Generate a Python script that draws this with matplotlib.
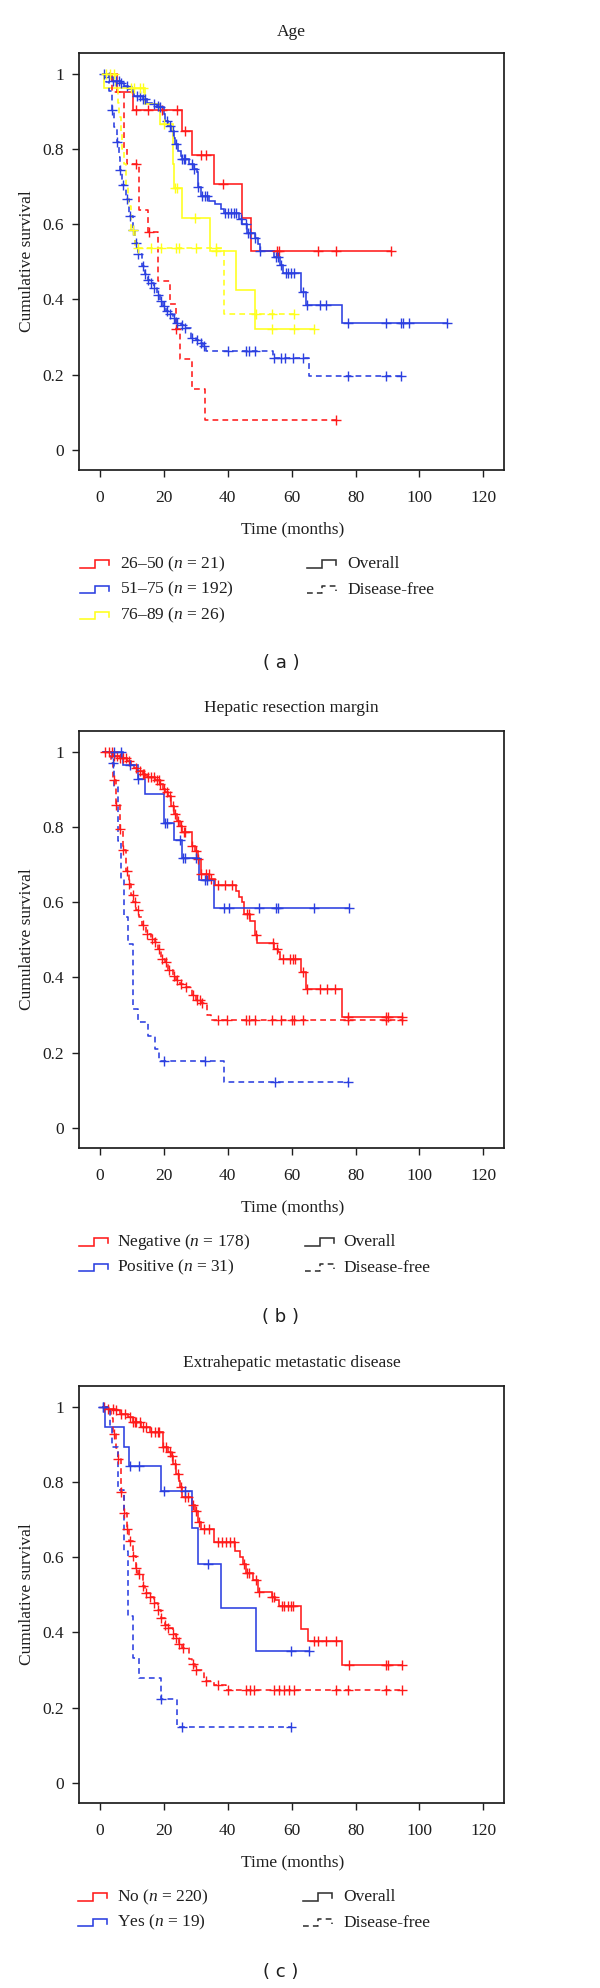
import numpy as np
import matplotlib
matplotlib.use('Agg')
import matplotlib.pyplot as plt

plt.rcParams['font.family'] = ['Liberation Serif', 'DejaVu Serif']
plt.rcParams['mathtext.fontset'] = 'custom'
plt.rcParams['mathtext.rm'] = 'Liberation Serif'
plt.rcParams['mathtext.it'] = 'Liberation Serif:italic'

# ---------------- data: panel (a) Age ----------------
a_red_os_t = [5.3, 10.2, 25.8, 28.7, 35.6, 44.4, 47.4]
a_red_os_s = [0.952, 0.905, 0.848, 0.785, 0.706, 0.618, 0.53]
a_red_os_c = [11.1, 15.1, 19.5, 24.0, 26.7, 31.6, 33.3, 38.5, 55.4, 55.9, 68.1, 74.0, 91.0]

a_red_dfs_t = [3.6, 7.4, 8.4, 12.2, 15.1, 18.0, 21.8, 23.7, 24.9, 28.7, 32.9]
a_red_dfs_s = [0.952, 0.804, 0.76, 0.638, 0.58, 0.45, 0.387, 0.32, 0.242, 0.162, 0.08]
a_red_dfs_c = [11.1, 15.4, 23.8, 73.9]

a_blue_os_t = [2.7, 3.6, 6.7, 7.6, 8.9, 10.2, 10.7, 13.3, 14.7, 16.4, 17.8, 18.7, 20.0, 20.4,
               21.3, 22.2, 23.1, 23.6, 24.4, 25.3, 25.8, 28.0, 29.3, 30.2, 30.7, 31.6, 34.2, 36.0,
               37.8, 38.7, 43.6, 44.4, 46.1, 48.6, 49.4, 50.0, 54.5, 56.3, 57.2, 62.9, 64.4, 75.8]
a_blue_os_s = [0.991, 0.982, 0.975, 0.969, 0.96, 0.951, 0.942, 0.933, 0.924, 0.92, 0.916, 0.911,
               0.893, 0.874, 0.862, 0.849, 0.831, 0.813, 0.796, 0.782, 0.773, 0.76, 0.747, 0.738,
               0.698, 0.676, 0.662, 0.653, 0.64, 0.631, 0.613, 0.60, 0.578, 0.564, 0.547, 0.529,
               0.513, 0.493, 0.471, 0.42, 0.385, 0.338]
a_blue_os_c = [1.3, 2.7, 4.0, 4.9, 5.8, 6.7, 8.4, 11.6, 12.4, 13.3, 14.2, 16.9, 18.0, 18.7, 20.9,
               21.8, 22.7, 23.7, 25.8, 26.2, 26.7, 28.7, 29.3, 30.8, 32.0, 32.9, 33.5, 39.1, 40.0,
               40.9, 41.8, 42.7, 44.0, 45.7, 46.3, 47.0, 48.6, 50.0, 55.1, 55.7, 56.7, 58.1, 59.0,
               59.9, 60.8, 63.5, 64.9, 69.0, 70.8, 77.7, 89.7, 94.2, 95.0, 96.6, 108.5]

a_blue_dfs_t = [2.0, 2.8, 3.6, 4.5, 5.2, 5.8, 6.2, 7.0, 8.2, 9.2, 10.3, 10.9, 11.8, 13.0, 14.0,
                15.0, 15.8, 16.8, 17.8, 18.9, 19.8, 20.7, 21.6, 22.8, 23.8, 25.5, 26.5, 28.6, 30.0,
                31.4, 32.2, 33.3, 54.3, 65.5]
a_blue_dfs_s = [0.98, 0.955, 0.905, 0.86, 0.82, 0.78, 0.744, 0.705, 0.667, 0.622, 0.585, 0.55,
                0.52, 0.489, 0.467, 0.453, 0.444, 0.431, 0.413, 0.396, 0.382, 0.369, 0.36, 0.351,
                0.338, 0.333, 0.324, 0.298, 0.291, 0.284, 0.276, 0.262, 0.244, 0.196]
a_blue_dfs_c = [3.7, 5.3, 6.2, 7.1, 8.4, 9.3, 10.4, 11.1, 12.0, 13.3, 14.2, 15.1, 16.0, 16.9, 18.0,
                19.1, 20.0, 20.9, 21.8, 23.1, 24.0, 25.8, 26.7, 28.9, 30.2, 31.6, 32.4, 40.0, 45.7,
                46.6, 48.6, 54.6, 56.7, 58.0, 60.3, 63.7, 77.7, 89.7, 94.2]

a_yel_os_t = [1.3, 14.2, 18.7, 22.7, 23.3, 25.8, 34.5, 42.7, 48.5]
a_yel_os_s = [0.962, 0.92, 0.867, 0.76, 0.696, 0.618, 0.53, 0.424, 0.32]
a_yel_os_c = [9.8, 10.7, 12.4, 13.3, 20.0, 23.4, 24.2, 29.6, 36.4, 53.9, 60.8, 67.1]

a_yel_dfs_t = [5.0, 5.6, 6.0, 6.5, 7.0, 7.6, 8.2, 8.9, 9.6, 11.0, 38.8]
a_yel_dfs_s = [0.962, 0.923, 0.885, 0.846, 0.80, 0.76, 0.70, 0.65, 0.585, 0.538, 0.36]
a_yel_dfs_c = [1.8, 3.0, 4.4, 10.4, 11.9, 16.0, 19.0, 23.9, 24.6, 30.1, 36.4, 48.9, 53.9, 60.8]

# ---------------- data: panel (b) Hepatic resection margin ----------------
b_red_os_t = [4.0, 6.2, 8.4, 9.8, 10.7, 11.6, 13.3, 14.2, 15.1, 17.3, 18.7, 19.6, 20.4, 21.3,
              22.2, 23.1, 24.0, 24.9, 25.8, 28.9, 29.8, 30.7, 31.6, 34.2, 36.0, 42.5, 43.5, 44.5,
              45.0, 47.0, 48.5, 49.3, 54.5, 55.7, 56.5, 62.9, 64.6, 75.7]
b_red_os_s = [0.99, 0.983, 0.977, 0.965, 0.957, 0.95, 0.941, 0.937, 0.933, 0.926, 0.915, 0.902,
              0.893, 0.884, 0.857, 0.835, 0.817, 0.804, 0.786, 0.751, 0.737, 0.715, 0.675, 0.662,
              0.646, 0.631, 0.615, 0.60, 0.57, 0.55, 0.512, 0.493, 0.476, 0.467, 0.45, 0.414,
              0.37, 0.295]
b_red_os_c = [2.7, 3.6, 4.4, 5.3, 6.2, 7.1, 8.0, 9.2, 11.1, 12.4, 13.3, 13.8, 15.1, 16.0, 16.9,
              17.8, 18.4, 18.9, 20.0, 21.1, 21.8, 22.8, 23.6, 24.3, 25.3, 26.2, 26.7, 28.9, 29.9,
              30.7, 31.7, 33.2, 34.0, 34.8, 36.9, 39.1, 41.3, 46.1, 46.6, 48.7, 54.0, 55.4, 57.2,
              59.4, 60.4, 61.0, 63.6, 64.8, 69.0, 71.0, 73.6, 77.7, 89.7, 90.3, 94.5]

b_red_dfs_t = [2.5, 3.5, 4.2, 5.0, 6.1, 7.2, 8.2, 9.0, 9.6, 10.4, 11.2, 12.2, 13.2, 14.5, 16.0,
               17.1, 18.1, 19.2, 20.2, 21.3, 22.8, 23.9, 24.9, 26.5, 28.9, 30.1, 31.7, 33.5, 34.6]
b_red_dfs_s = [0.99, 0.97, 0.926, 0.858, 0.796, 0.74, 0.684, 0.649, 0.62, 0.60, 0.58, 0.561,
               0.539, 0.516, 0.503, 0.494, 0.476, 0.45, 0.441, 0.419, 0.405, 0.392, 0.383, 0.374,
               0.352, 0.339, 0.332, 0.30, 0.287]
b_red_dfs_c = [1.5, 4.3, 5.1, 6.2, 7.3, 8.3, 9.2, 10.2, 11.0, 12.0, 13.3, 14.6, 16.2, 17.2, 18.6,
               19.4, 20.5, 21.5, 23.0, 24.2, 25.2, 26.8, 29.0, 30.2, 31.4, 32.0, 37.0, 39.8, 45.7,
               46.6, 48.6, 53.9, 56.7, 60.1, 60.8, 63.6, 77.7, 89.7, 94.5]

b_blue_os_t = [7.2, 11.9, 14.2, 19.9, 23.1, 25.7, 30.9, 35.8]
b_blue_os_s = [0.965, 0.928, 0.888, 0.81, 0.766, 0.718, 0.66, 0.585]
b_blue_os_c = [4.4, 6.5, 9.3, 12.0, 20.2, 21.0, 25.0, 26.0, 26.6, 30.0, 32.9, 33.5, 38.9, 40.4,
               49.8, 55.1, 55.8, 67.0, 78.0]

b_blue_dfs_t = [3.7, 4.3, 5.6, 6.5, 7.6, 8.6, 10.2, 12.0, 15.1, 17.2, 18.4, 38.8]
b_blue_dfs_s = [0.97, 0.906, 0.764, 0.662, 0.56, 0.489, 0.316, 0.282, 0.245, 0.209, 0.178, 0.121]
b_blue_dfs_c = [4.2, 20.0, 33.0, 54.9, 77.8]

# ---------------- data: panel (c) Extrahepatic metastatic disease ----------------
c_red_os_t = [2.0, 4.6, 6.1, 8.7, 10.3, 12.9, 15.5, 19.7, 21.2, 22.3, 22.8, 23.9, 24.6, 24.9,
              25.7, 28.9, 29.6, 30.8, 31.7, 35.8, 42.3, 43.8, 44.8, 45.6, 47.8, 49.6, 53.8, 54.9,
              56.0, 62.9, 65.0, 75.7]
c_red_os_s = [0.996, 0.991, 0.982, 0.973, 0.96, 0.947, 0.933, 0.893, 0.88, 0.871, 0.849, 0.822,
              0.804, 0.787, 0.76, 0.738, 0.724, 0.693, 0.676, 0.64, 0.618, 0.60, 0.582, 0.557,
              0.54, 0.508, 0.495, 0.486, 0.471, 0.409, 0.378, 0.314]
c_red_os_c = [1.2, 2.5, 4.1, 5.1, 6.7, 7.7, 9.3, 10.3, 10.8, 11.4, 12.4, 13.4, 14.5, 16.0, 17.1,
              18.1, 18.6, 19.8, 20.7, 21.8, 22.4, 23.5, 24.4, 25.4, 26.5, 27.5, 29.0, 30.1, 31.1,
              32.7, 34.1, 36.9, 38.2, 39.5, 40.7, 41.9, 45.0, 45.9, 46.7, 48.9, 49.9, 53.8, 54.6,
              56.9, 57.7, 59.0, 59.8, 60.5, 67.1, 68.4, 70.7, 73.9, 78.0, 89.7, 90.3, 94.5]

c_red_dfs_t = [2.5, 3.5, 4.2, 5.0, 5.6, 6.5, 7.4, 8.4, 9.2, 10.2, 11.1, 12.0, 13.3, 14.2, 15.6,
               16.9, 18.0, 19.1, 20.2, 21.3, 22.7, 23.7, 24.6, 25.8, 27.8, 28.9, 29.8, 32.6, 35.8,
               39.5]
c_red_dfs_s = [0.99, 0.97, 0.928, 0.89, 0.863, 0.775, 0.719, 0.675, 0.644, 0.604, 0.572, 0.555,
               0.524, 0.506, 0.494, 0.479, 0.461, 0.439, 0.421, 0.412, 0.396, 0.386, 0.37, 0.359,
               0.33, 0.315, 0.301, 0.272, 0.261, 0.248]
c_red_dfs_c = [4.3, 5.7, 6.6, 7.5, 8.5, 9.3, 10.3, 11.2, 12.1, 13.4, 14.3, 15.7, 17.0, 18.1, 19.2,
               20.3, 21.4, 22.8, 23.8, 24.7, 25.9, 29.0, 29.9, 33.2, 36.8, 40.0, 45.7, 46.8, 48.3,
               54.6, 56.0, 57.7, 59.3, 60.8, 73.9, 77.8, 89.7, 94.5]

c_blue_os_t = [1.5, 7.4, 9.2, 19.1, 28.9, 30.8, 37.8, 48.8]
c_blue_os_s = [0.947, 0.894, 0.842, 0.777, 0.679, 0.583, 0.466, 0.35]
c_blue_os_c = [1.0, 9.4, 12.2, 20.0, 26.5, 33.8, 59.8, 65.3]

c_blue_dfs_t = [3.0, 3.8, 5.6, 7.4, 8.8, 10.2, 12.2, 19.1, 24.0]
c_blue_dfs_s = [0.947, 0.894, 0.78, 0.617, 0.444, 0.333, 0.278, 0.222, 0.148]
c_blue_dfs_c = [1.0, 19.2, 25.7, 59.8]

titles = ['Age', 'Hepatic resection margin', 'Extrahepatic metastatic disease']
panel_tags = ['( a )', '( b )', '( c )']
legend_a = [('26–50', 21), ('51–75', 192), ('76–89', 26)]
legend_b = [('Negative', 178), ('Positive', 31)]
legend_c = [('No', 220), ('Yes', 19)]
x_ticks = [0, 20, 40, 60, 80, 100, 120]
y_ticks = [0, 0.2, 0.4, 0.6, 0.8, 1]
y_tick_labels = ['0', '0.2', '0.4', '0.6', '0.8', '1']

# ---------------- styling ----------------
RED = '#ff1a1a'
BLUE = '#2b3fe0'
YELLOW = '#ffff1c'
INK = '#1e1e1e'
LW = 1.15
DASH = (0, (3.6, 2.6))
FS = 12.5
W, H = 600, 1988
START = 0.9

fig = plt.figure(figsize=(W / 100, H / 100), dpi=100)


def px_axes(left, top, right, bottom):
    return fig.add_axes([left / W, 1 - bottom / H, (right - left) / W, (bottom - top) / H])


def km(ax, t, s, c, color, dashed):
    t = list(t); s = list(s); c = list(c)
    end = max(c + t)
    xs = [START] + t + [end]
    ys = [1.0] + s + [s[-1]]
    ax.step(xs, ys, where='post', color=color, lw=LW,
            linestyle=DASH if dashed else '-', solid_joinstyle='miter', zorder=3)
    tt = np.array(t); ss = np.array(s)
    cy = []
    for ci in c:
        k = np.searchsorted(tt, ci, side='right')
        cy.append(1.0 if k == 0 else ss[k - 1])
    ax.plot(c, cy, linestyle='none', marker='+', ms=6.5, mew=1.0, color=color, zorder=4)


panels = [
    dict(top=53, title_y=32,
         curves=[(a_red_os_t, a_red_os_s, a_red_os_c, RED, False),
                 (a_blue_os_t, a_blue_os_s, a_blue_os_c, BLUE, False),
                 (a_yel_os_t, a_yel_os_s, a_yel_os_c, YELLOW, False),
                 (a_red_dfs_t, a_red_dfs_s, a_red_dfs_c, RED, True),
                 (a_blue_dfs_t, a_blue_dfs_s, a_blue_dfs_c, BLUE, True),
                 (a_yel_dfs_t, a_yel_dfs_s, a_yel_dfs_c, YELLOW, True)],
         legend=legend_a, colors=[RED, BLUE, YELLOW], leg_x=(80, 120, 307, 347),
         tag_off=193),
    dict(top=731, title_y=708,
         curves=[(b_red_os_t, b_red_os_s, b_red_os_c, RED, False),
                 (b_blue_os_t, b_blue_os_s, b_blue_os_c, BLUE, False),
                 (b_red_dfs_t, b_red_dfs_s, b_red_dfs_c, RED, True),
                 (b_blue_dfs_t, b_blue_dfs_s, b_blue_dfs_c, BLUE, True)],
         legend=legend_b, colors=[RED, BLUE], leg_x=(79, 117, 305, 343), tag_off=169),
    dict(top=1386, title_y=1363,
         curves=[(c_red_os_t, c_red_os_s, c_red_os_c, RED, False),
                 (c_blue_os_t, c_blue_os_s, c_blue_os_c, BLUE, False),
                 (c_red_dfs_t, c_red_dfs_s, c_red_dfs_c, RED, True),
                 (c_blue_dfs_t, c_blue_dfs_s, c_blue_dfs_c, BLUE, True)],
         legend=legend_c, colors=[RED, BLUE], leg_x=(78, 117, 303, 343), tag_off=169),
]

AX_L, AX_R, AX_H = 79, 504, 417
axes = []
for i, p in enumerate(panels):
    top = p['top']; bottom = top + AX_H
    ax = px_axes(AX_L, top, AX_R, bottom)
    for (t, s, c, col, d) in p['curves']:
        km(ax, t, s, c, col, d)
    ax.set_xlim(-6.6, 126.5)
    ax.set_ylim(-0.054, 1.056)
    ax.set_xticks(x_ticks)
    ax.set_xticklabels([str(v) for v in x_ticks])
    ax.set_yticks(y_ticks)
    ax.set_yticklabels(y_tick_labels)
    ax.tick_params(axis='both', direction='out', length=5.2, width=1.0, color=INK,
                   labelsize=FS, labelcolor=INK)
    ax.tick_params(axis='x', pad=9)
    ax.tick_params(axis='y', pad=5.5)
    for sp in ax.spines.values():
        sp.set_linewidth(1.25)
        sp.set_color(INK)
    p['bottom'] = bottom
    axes.append(ax)

# overlay for text and legend keys, in pixel coordinates
ov = fig.add_axes([0, 0, 1, 1], zorder=10)
ov.set_xlim(0, W)
ov.set_ylim(H, 0)
ov.axis('off')
ov.patch.set_alpha(0)


def key(x0, y, color, dashed):
    xs = [x0, x0 + 15, x0 + 15, x0 + 29, x0 + 29]
    ys = [y + 3.6, y + 3.6, y - 3.8, y - 3.8, y + 1.2]
    ov.plot(xs, ys, color=color, lw=LW, linestyle=DASH if dashed else '-',
            solid_joinstyle='miter')


for i, p in enumerate(panels):
    top = p['top']; bottom = p['bottom']
    cx = (AX_L + AX_R) / 2
    ov.text(cx, p['title_y'], titles[i], ha='center', va='center', fontsize=FS, color=INK)
    ov.text(cx + 1, bottom + 59, 'Time (months)', ha='center', va='center', fontsize=FS, color=INK)
    ov.text(27, (top + bottom) / 2, 'Cumulative survival', rotation=90, ha='center',
            va='center', fontsize=FS, color=INK)
    kx1, tx1, kx2, tx2 = p['leg_x']
    for j, ((name, n), col) in enumerate(zip(p['legend'], p['colors'])):
        y = bottom + 94 + 25.8 * j
        key(kx1, y, col, False)
        ov.text(tx1, y, f'{name} ($n$ = {n})', ha='left', va='center', fontsize=FS, color=INK)
    for j, (lab, d) in enumerate([('Overall', False), ('Disease-free', True)]):
        y = bottom + 94 + 25.8 * j
        key(kx2, y, '#333333', d)
        ov.text(tx2, y, lab, ha='left', va='center', fontsize=FS, color=INK)
    ov.text(281, bottom + p['tag_off'], panel_tags[i], ha='center', va='center',
            fontsize=13, color=INK, family=['DejaVu Sans'])

fig.savefig('out.png', dpi=100, facecolor='white')
